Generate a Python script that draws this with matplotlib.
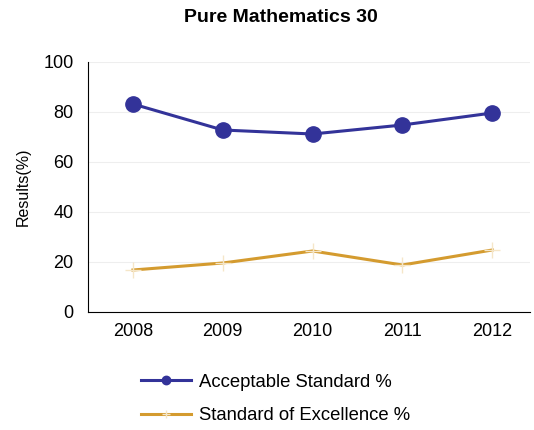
import matplotlib
matplotlib.use("Agg")
import matplotlib.pyplot as plt

years = ["2008", "2009", "2010", "2011", "2012"]
acceptable = [83.2, 72.8, 71.2, 74.8, 79.6]
excellence = [16.8, 19.6, 24.4, 18.8, 24.8]

plt.rcParams['font.family'] = ['Liberation Sans', 'DejaVu Sans']

fig = plt.figure(figsize=(5.34, 4.30), dpi=100)
ax = fig.add_axes([88/534, 1 - 312/430, 442/534, 250/430])

x = list(range(len(years)))
l1, = ax.plot(x, acceptable, color='#333399', linewidth=2.2, marker='o',
              markersize=11, label='Acceptable Standard %', zorder=3)
l2, = ax.plot(x, excellence, color='#D49B2F', linewidth=2.2, marker='+',
              markersize=11, markeredgecolor='#F5E6C8', markeredgewidth=1,
              label='Standard of Excellence %', zorder=3)

ax.set_xlim(-0.5, 4.42)
ax.set_ylim(0, 100)
ax.set_yticks([0, 20, 40, 60, 80, 100])
ax.set_xticks(x)
ax.set_xticklabels(years)
ax.tick_params(length=0, labelsize=13, pad=8)
ax.tick_params(axis='y', pad=10.5)
ax.grid(axis='y', color='#eeeeee', linewidth=0.8)
ax.set_axisbelow(True)
for s in ['top', 'right']:
    ax.spines[s].set_visible(False)
ax.spines['left'].set_color('black')
ax.spines['bottom'].set_color('black')
ax.set_ylabel('Results(%)', fontsize=11.5, labelpad=9)

fig.text(281/534, 1 - 18/430, 'Pure Mathematics 30', ha='center', va='center',
         fontsize=14, fontweight='bold')

fig.legend(handles=[l1, l2], loc='upper left', bbox_to_anchor=(124/534, 1 - 357/430),
           frameon=False, fontsize=13.3, handlelength=2.75, labelspacing=0.9,
           handletextpad=0.4, markerscale=0.55)

fig.savefig('out.png', dpi=100)
